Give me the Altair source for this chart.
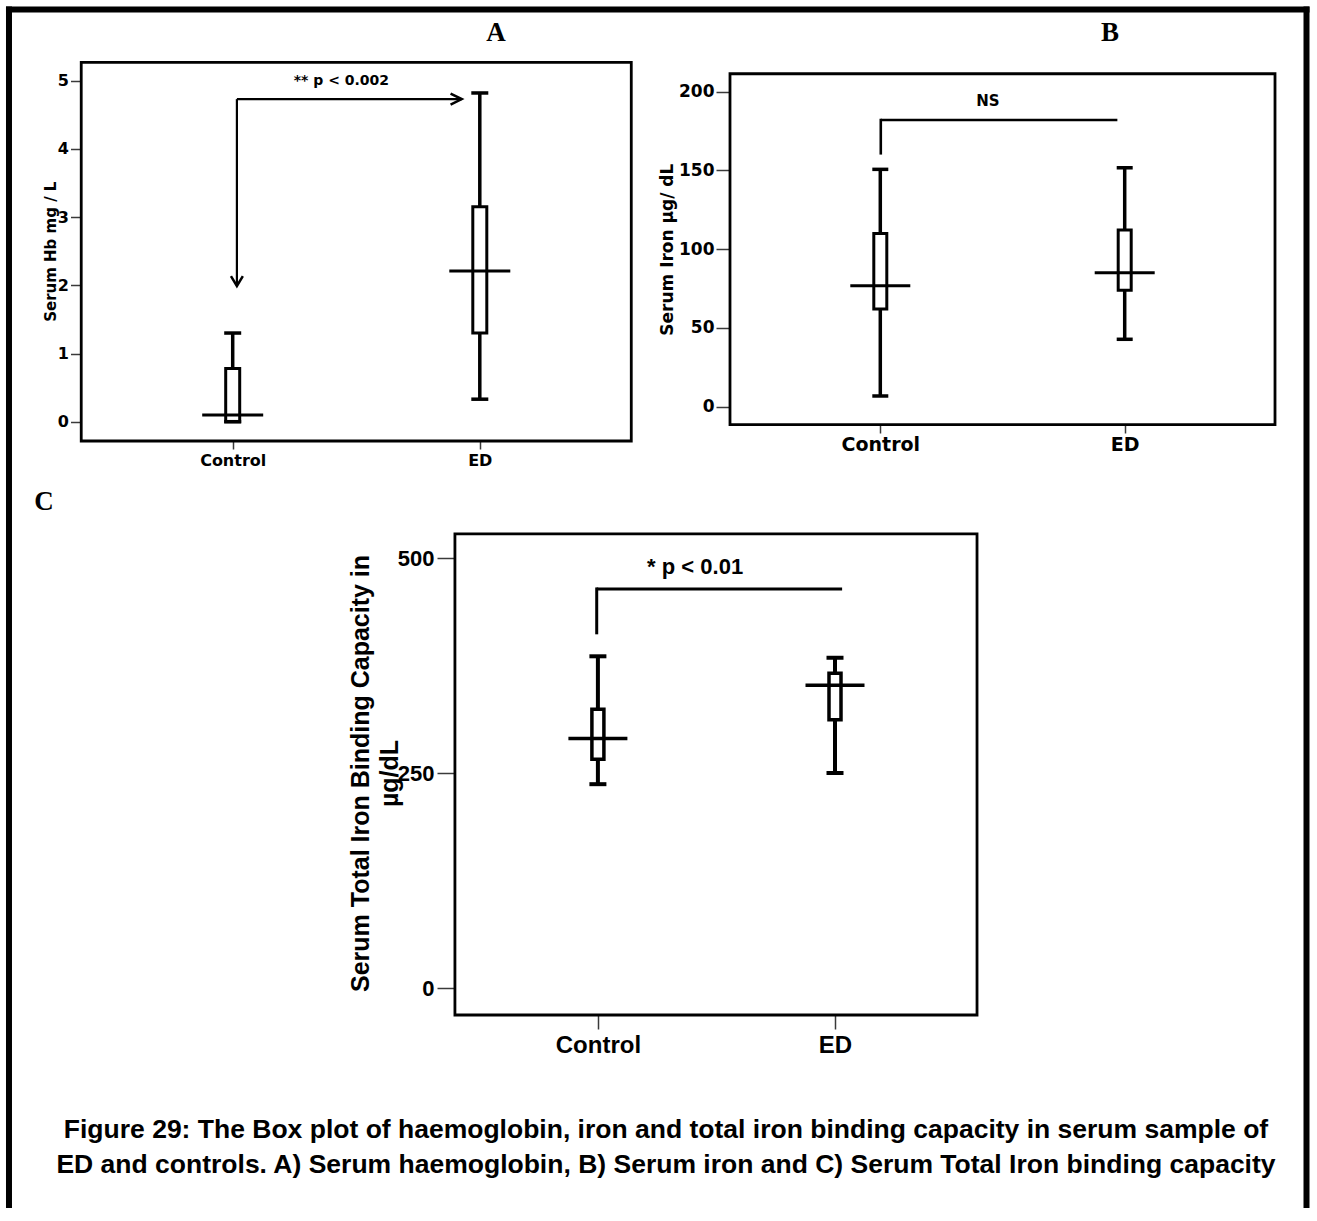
import altair as alt
import pandas as pd

# ---------------- data ----------------
groups = ["Control", "ED"]
positions = [1, 2]

hb_low = [0.00, 0.33]
hb_q1 = [0.00, 1.30]
hb_median = [0.10, 2.21]
hb_q3 = [0.78, 3.15]
hb_high = [1.30, 4.82]

iron_low = [6.8, 42.8]
iron_q1 = [62.0, 74.0]
iron_median = [76.8, 85.0]
iron_q3 = [110.0, 112.2]
iron_high = [150.7, 151.7]

tibc_low = [237.0, 250.0]
tibc_q1 = [266.0, 312.0]
tibc_median = [290.0, 352.0]
tibc_q3 = [324.0, 366.0]
tibc_high = [385.7, 384.0]

hb_ticks = [0, 1, 2, 3, 4, 5]
iron_ticks = [0, 50, 100, 150, 200]
tibc_ticks = [0, 250, 500]

title_a = "Serum Hb mg / L"
title_b = "Serum Iron µg/ dL"
title_c = ["Serum Total Iron Binding Capacity in", "µg/dL"]

caption_lines = [
    "Figure  29:   The Box plot of haemoglobin, iron and total iron binding capacity in serum sample of",
    "ED and controls. A) Serum haemoglobin, B) Serum iron and C) Serum Total Iron binding capacity",
]

PAGE_W, PAGE_H = 1310, 1210
ONE = alt.Data(values=[{}])
LABEL_EXPR = "datum.value == 1 ? '%s' : '%s'" % (groups[0], groups[1])


class Panel:
    """One box-plot panel; its scales map straight onto its place on the page."""

    def __init__(self, p):
        self.p = p
        self.xscale = alt.Scale(domain=[1, 2], range=p["xrange"], nice=False, zero=False, padding=0)
        self.yscale = alt.Scale(domain=p["ydom"], range=p["yrange"], nice=False, zero=False, padding=0)
        self.xaxis = alt.Axis(
            orient="bottom", offset=p["xoff"],
            values=positions, labelExpr=LABEL_EXPR, grid=False, domain=False,
            tickSize=p["xtick"], tickColor="#3a3a3a", tickWidth=1.5,
            labelFont=p["font"], labelFontSize=p["xlab"], labelFontWeight="bold",
            labelColor="black", labelPadding=p["xpad"], labelAngle=0,
            labelFlush=False, labelOverlap=False, labelAlign="center",
        )
        self.yaxis = alt.Axis(
            orient="left", offset=p["yoff"],
            values=p["yticks"], grid=False, domain=False,
            tickSize=p["ytick"], tickColor="#3a3a3a", tickWidth=1.5,
            labelFont=p["font"], labelFontSize=p["ylab"], labelFontWeight="bold",
            labelColor="black", labelPadding=p["ypad"], labelFlush=False, labelOverlap=False,
            titleFont=p["font"], titleFontSize=p["tsize"], titleFontWeight="bold",
            titleColor="black", titlePadding=p["tpad"], titleLineHeight=p["tline"],
        )
        self.layers = []

    def xf(self, field):
        return alt.X(field, type="quantitative", scale=self.xscale, axis=self.xaxis, title=None)

    def yf(self, field):
        return alt.Y(field, type="quantitative", scale=self.yscale, axis=self.yaxis, title=self.p["title"])

    def xd(self, v):
        return alt.XDatum(v, type="quantitative", scale=self.xscale, axis=self.xaxis, title=None)

    def yd(self, v):
        return alt.YDatum(v, type="quantitative", scale=self.yscale, axis=self.yaxis, title=self.p["title"])

    def frame(self, x1, y1, x2, y2, w=2.8):
        self.layers.append(alt.Chart(ONE).mark_rect(fillOpacity=0, stroke="black", strokeWidth=w).encode(
            x=self.xd(x1), x2=alt.datum(x2), y=self.yd(y1), y2=alt.datum(y2)))

    def boxes(self, low, q1, med, q3, high):
        p = self.p
        df = pd.DataFrame({"pos": positions, "group": groups, "low": low, "q1": q1,
                           "med": med, "q3": q3, "high": high})
        base = alt.Chart(df)
        self.layers += [
            base.mark_rule(color="black", strokeWidth=p["wstroke"]).encode(
                x=self.xf("pos"), y=self.yf("low"), y2="high:Q"),
            base.mark_bar(width=p["boxw"], fill="white", stroke="black",
                          strokeWidth=p["bstroke"]).encode(
                x=self.xf("pos"), y=self.yf("q1"), y2="q3:Q"),
            base.mark_tick(orient="horizontal", size=p["cap"], thickness=p["capt"],
                           color="black", opacity=1).encode(x=self.xf("pos"), y=self.yf("high")),
            base.mark_tick(orient="horizontal", size=p["cap"], thickness=p["capt"],
                           color="black", opacity=1).encode(x=self.xf("pos"), y=self.yf("low")),
            base.mark_tick(orient="horizontal", size=p["med"], thickness=p["medt"],
                           color="black", opacity=1).encode(x=self.xf("pos"), y=self.yf("med")),
        ]

    def seg(self, x1, y1, x2, y2, w, cap="butt"):
        self.layers.append(alt.Chart(ONE).mark_rule(color="black", strokeWidth=w, strokeCap=cap).encode(
            x=self.xd(x1), x2=alt.datum(x2), y=self.yd(y1), y2=alt.datum(y2)))

    def text(self, x, y, txt, font, size, weight="bold"):
        self.layers.append(alt.Chart(ONE).mark_text(
            text=txt, font=font, fontSize=size, fontWeight=weight,
            color="black", align="center", baseline="middle").encode(x=self.xd(x), y=self.yd(y)))

    def head(self, x, y, path, size=196, w=2.5):
        self.layers.append(alt.Chart(ONE).mark_point(
            shape=path, size=size, filled=False, stroke="black",
            strokeWidth=w, opacity=1, strokeJoin="miter").encode(x=self.xd(x), y=self.yd(y)))

    def chart(self):
        return alt.layer(*self.layers)


SANS_AB = "DejaVu Sans"
SANS_C = "Liberation Sans"
SERIF = "Liberation Serif"

# ---------------- Panel A ----------------
pa = Panel(dict(xrange=[232.7, 479.8], ydom=[0, 5], yrange=[421.7, 80.7], yticks=hb_ticks,
                xoff=441 - PAGE_H, yoff=-81.5, font=SANS_AB,
                xlab=16, ylab=16, xtick=8, ytick=11, xpad=3, ypad=2, title=title_a,
                tsize=15, tpad=-1, tline=18, boxw=14, bstroke=3, wstroke=3.5,
                cap=17, capt=3.5, med=61, medt=3))
pa.frame(0.387, -0.283, 2.613, 5.27)
pa.boxes(hb_low, hb_q1, hb_median, hb_q3, hb_high)
pa.seg(1.017, 4.73, 1.927, 4.73, 2.2)
pa.seg(1.017, 4.73, 1.017, 1.99, 2.2)
pa.head(1.927, 4.73, "M -1.6 -0.8 L 0 0 L -1.6 0.8")
pa.head(1.017, 1.99, "M -0.85 -1.4 L 0 0 L 0.85 -1.4")
pa.text(1.44, 5.0, "** p < 0.002", SANS_AB, 14)
pa.text(2.066, 5.70, "A", SERIF, 27)

# ---------------- Panel B ----------------
pb = Panel(dict(xrange=[880.3, 1124.7], ydom=[0, 200], yrange=[406.7, 91.7], yticks=iron_ticks,
                xoff=425 - PAGE_H, yoff=-730, font=SANS_AB,
                xlab=19, ylab=17, xtick=8, ytick=14, xpad=2, ypad=2, title=title_b,
                tsize=17, tpad=2, tline=20, boxw=13, bstroke=3, wstroke=3.5,
                cap=16, capt=3.5, med=60, medt=3))
pb.frame(0.385, -11.4, 2.615, 211.4)
pb.boxes(iron_low, iron_q1, iron_median, iron_q3, iron_high)
pb.seg(1.002, 160.9, 1.002, 182.0, 2.6, cap="square")
pb.seg(1.002, 182.0, 1.97, 182.0, 2.6)
pb.text(1.44, 194.3, "NS", SANS_AB, 15)
pb.text(1.94, 237.3, "B", SERIF, 27)

# ---------------- Panel C ----------------
pc = Panel(dict(xrange=[597.9, 835.0], ydom=[0, 500], yrange=[988.0, 558.0], yticks=tibc_ticks,
                xoff=1015 - PAGE_H, yoff=-455, font=SANS_C,
                xlab=24, ylab=22, xtick=14, ytick=18, xpad=4, ypad=3, title=title_c,
                tsize=25, tpad=-5, tline=29, boxw=12, bstroke=3.5, wstroke=4,
                cap=17, capt=4, med=59, medt=3.5))
pc.frame(0.397, -31.4, 2.599, 528.0)
pc.boxes(tibc_low, tibc_q1, tibc_median, tibc_q3, tibc_high)
pc.seg(0.995, 413.0, 0.995, 464.0, 3, cap="square")
pc.seg(0.995, 464.0, 2.03, 464.0, 3)
pc.text(1.41, 489.0, "* p < 0.01", SANS_C, 22)
pc.text(-1.3365, 565.1, "C", SERIF, 27)
# figure caption and the outer figure frame
pc.text(1.2872, -165.1, caption_lines[0], SANS_C, 26.5)
pc.text(1.2872, -205.8, caption_lines[1], SANS_C, 26.5)
pc.seg(-1.4838, 1137.8, 3.9886, 1137.8, 6, cap="square")
pc.seg(-1.4838, 1137.8, -1.4838, -252.3, 6, cap="square")
pc.seg(3.9886, 1137.8, 3.9886, -252.3, 6, cap="square")

chart = alt.layer(pa.chart(), pb.chart(), pc.chart()).resolve_scale(
    x="independent", y="independent"
).resolve_axis(
    x="independent", y="independent"
).properties(
    width=PAGE_W, height=PAGE_H, padding=0, background="white",
).configure_view(strokeOpacity=0)

chart.save("out.html", embed_options={"renderer": "svg", "actions": False})
